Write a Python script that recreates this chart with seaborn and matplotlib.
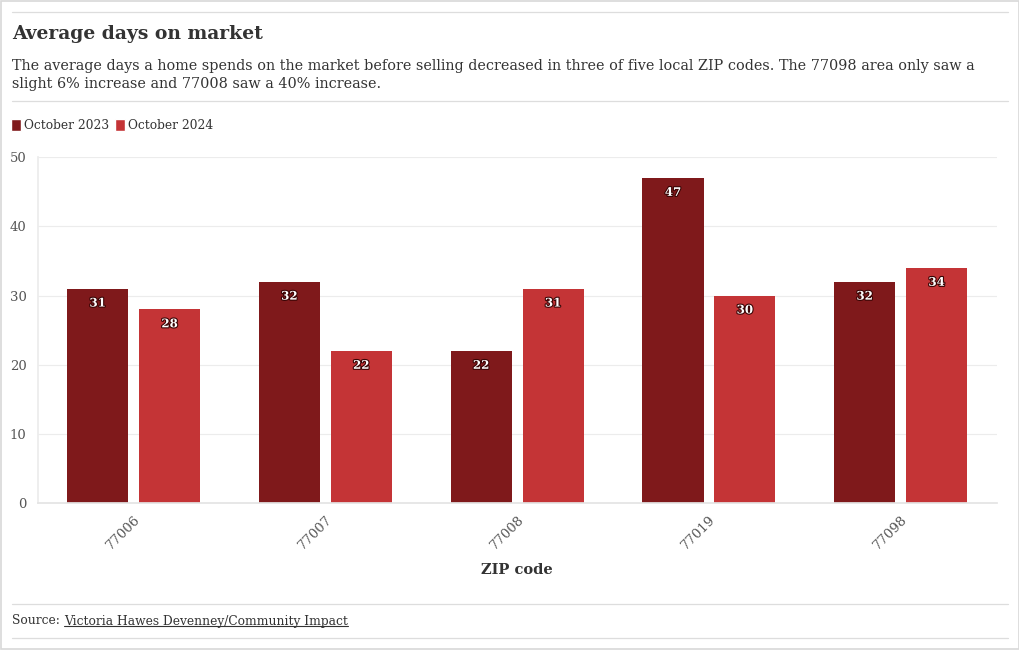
import pandas as pd
import matplotlib.pyplot as plt
import matplotlib.patheffects as pe
from matplotlib.patches import Patch, Rectangle
from matplotlib.lines import Line2D
import seaborn as sns

# Data
zip_codes = ["77006", "77007", "77008", "77019", "77098"]
oct_2023 = [31, 32, 22, 47, 32]
oct_2024 = [28, 22, 31, 30, 34]
series_names = ["October 2023", "October 2024"]

df = pd.DataFrame({
    "ZIP code": zip_codes * 2,
    "Days": oct_2023 + oct_2024,
    "Period": [series_names[0]] * 5 + [series_names[1]] * 5,
})

palette = {"October 2023": "#7f191b", "October 2024": "#c43436"}
text_col = "#333333"
line_col = "#dddddd"

sns.set_theme(style="white")
plt.rcParams["font.family"] = ["DejaVu Serif"]

fig = plt.figure(figsize=(10.2, 6.5), dpi=100)
ax = fig.add_axes([0.037, 0.226, 0.94, 0.532])

sns.barplot(data=df, x="ZIP code", y="Days", hue="Period", palette=palette,
            width=0.75, gap=0.15, errorbar=None, ax=ax, saturation=1,
            linewidth=0)

# value labels inside the bars
for cont in ax.containers:
    labels = ax.bar_label(cont, padding=-15, color="white", fontsize=8.5,
                          fontweight="bold")
    for t in labels:
        t.set_path_effects([pe.withStroke(linewidth=1.6, foreground="#3a0505")])

ax.set_ylim(0, 50)
ax.set_yticks(range(0, 51, 10))
ax.yaxis.grid(True, color="#ececec", linewidth=0.8)
ax.set_axisbelow(True)
for s in ["top", "right"]:
    ax.spines[s].set_visible(False)
ax.spines["left"].set_color("#ececec")
ax.spines["bottom"].set_color("#e4e4e4")
ax.tick_params(axis="y", labelsize=9.5, labelcolor="#555555", length=0, pad=8)
ax.tick_params(axis="x", labelsize=9.5, labelcolor="#555555", length=4,
               color="#e4e4e4", pad=3)
plt.setp(ax.get_xticklabels(), rotation=45, ha="right", rotation_mode="anchor")
ax.set_ylabel("")
ax.set_xlabel("ZIP code", fontsize=10.5, fontweight="bold", color=text_col,
              labelpad=8)

# legend on top
ax.get_legend().remove()
handles = [Patch(facecolor=palette[n], label=n) for n in series_names]
fig.legend(handles=handles, loc="center left", bbox_to_anchor=(0.0, 0.807),
           ncol=2, frameon=False, fontsize=8.8, handlelength=0.8,
           handleheight=1.2, handletextpad=0.25, columnspacing=0.5,
           labelcolor=text_col)

# header text
fig.text(0.012, 0.947, "Average days on market", fontsize=13.5,
         fontweight="bold", color=text_col, va="center")
fig.text(0.012, 0.885,
         "The average days a home spends on the market before selling decreased in three of five local ZIP codes. The 77098 area only saw a\n"
         "slight 6% increase and 77008 saw a 40% increase.",
         fontsize=10.4, color=text_col, va="center", linespacing=1.4)

# rule lines
for yy in [1 - 12 / 650, 1 - 101 / 650, 1 - 604 / 650, 1 - 638 / 650]:
    fig.add_artist(Line2D([12 / 1020, 1008 / 1020], [yy, yy],
                          transform=fig.transFigure, color=line_col, lw=0.9))
fig.add_artist(Rectangle((0.001, 0.001), 0.998, 0.998, transform=fig.transFigure,
                         fill=False, edgecolor="#d8d8d8", lw=1.2))

# source line
src = fig.text(0.012, 1 - 621 / 650, "Source: ", fontsize=8.8, color=text_col,
               va="center")
fig.canvas.draw()
r = fig.canvas.get_renderer()
bb = src.get_window_extent(r).transformed(fig.transFigure.inverted())
link = fig.text(bb.x1, 1 - 621 / 650, "Victoria Hawes Devenney/Community Impact",
                fontsize=8.8, color=text_col, va="center")
bb2 = link.get_window_extent(r).transformed(fig.transFigure.inverted())
fig.add_artist(Line2D([bb2.x0, bb2.x1], [bb2.y0 + 0.002, bb2.y0 + 0.002],
                      transform=fig.transFigure, color=text_col, lw=0.8))

fig.savefig("out.png", dpi=100)
